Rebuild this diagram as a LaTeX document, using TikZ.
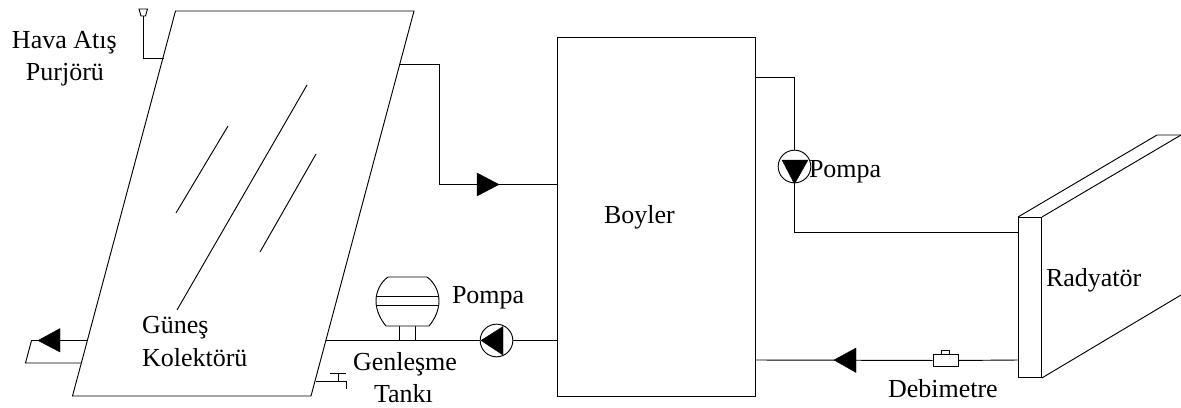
\documentclass[tikz,border=0pt]{standalone}
\usepackage{fontspec}
\setmainfont{Liberation Serif}
\tikzset{
  pipe/.style={draw=black,line width=0.7pt},
  solid tri/.style={fill=black,draw=black,line width=0.3pt},
  lbl/.style={anchor=base west,inner sep=0pt,outer sep=0pt,font=\fontsize{19.5pt}{23pt}\selectfont},
  pumpc/.style={circle,draw=black,fill=white,line width=0.7pt,minimum size=24.5pt,inner sep=0pt},
  boxn/.style={rectangle,draw=black,line width=0.7pt,inner sep=0pt,anchor=north west},
}
\begin{document}
\begin{tikzpicture}[x=0.75pt,y=-0.75pt]
\useasboundingbox (0,0) rectangle (1181,407);
% collector
\coordinate (ctl) at (175.5,11);
\coordinate (ctr) at (414,11);
\coordinate (cbr) at (311,396);
\coordinate (cbl) at (72.5,396);
\draw[pipe] (ctl) -- (ctr) -- (cbr) -- (cbl) -- cycle;
% glass
\coordinate (g1a) at (307,85); \coordinate (g1b) at (177,310);
\coordinate (g2a) at (228,126); \coordinate (g2b) at (176,213);
\coordinate (g3a) at (316,154); \coordinate (g3b) at (260,252);
\draw[pipe] (g1a) -- (g1b) (g2a) -- (g2b) (g3a) -- (g3b);
% vent
\coordinate (va) at (163.5,58); \coordinate (vb) at (143,58); \coordinate (vc) at (143,16);
\draw[pipe] (va) -- (vb) -- (vc);
\draw[pipe] (139,9) -- (147.5,9) -- (145.5,16) -- (141,16) -- cycle;
% boiler
\node[boxn,minimum width=149pt,minimum height=269.25pt] (boiler) at (556.5,37) {};
% collector outlet
\coordinate (co) at (398.5,64);
\coordinate (co2) at (439,64);
\coordinate (co3) at (439,184);
\coordinate (bin) at (boiler.west |- co3);
\draw[pipe] (co) -- (co2) -- (co3) -- (bin);
\fill[solid tri] (477,173) -- (499,184.5) -- (477,196) -- cycle;
% bottom left outlet
\coordinate (la) at (87,340.5); \coordinate (lb) at (31.5,340.5);
\coordinate (lc) at (25.5,363); \coordinate (ld) at (81,363);
\draw[pipe] (la) -- (lb) -- (lc) -- (ld);
\fill[solid tri] (38,340.5) -- (60,328.5) -- (60,352) -- cycle;
% lower pump and line
\coordinate (m1) at (326,340.5);
\node[pumpc] (pump1) at (496.5,340.5) {};
\coordinate (bo) at (boiler.west |- m1);
\draw[pipe] (m1) -- (pump1.west);
\draw[pipe] (pump1.east) -- (bo);
\fill[solid tri] (481,340.5) -- (503,326.5) -- (503,355) -- cycle;
% expansion tank
\draw[pipe] (399.5,326) -- (399.5,340.5) (415,326) -- (415,340.5);
\draw[pipe,fill=white] (388,277) -- (427,277)
  .. controls (434,282) and (439,291) .. (439,301)
  .. controls (439,311) and (434,320) .. (429,326)
  -- (386,326)
  .. controls (381,320) and (376,311) .. (376,301)
  .. controls (376,291) and (381,282) .. (388,277) -- cycle;
\draw[pipe] (376,296) -- (439,296) (376,305) -- (439,305);
% drain tap
\coordinate (t1) at (316,381); \coordinate (t2) at (346,381); \coordinate (t3) at (346,389);
\draw[pipe] (t1) -- (t2) -- (t3);
\draw[pipe] (338,373) -- (338,381) (330,373) -- (346,373);
% radiator
\node[boxn,minimum width=17.25pt,minimum height=120pt] (rad) at (1018,217) {};
\draw[pipe] (rad.north west) -- (1157,135) -- (1181,135);
\draw[pipe] (rad.north east) -- (1181,135);
\draw[pipe] (rad.south east) -- (1181,295);
% upper right loop
\coordinate (r1) at (boiler.east |- 0,77);
\coordinate (r2) at (794.5,77);
\node[pumpc] (pump2) at (794.5,166.5) {};
\coordinate (r3) at (794.5,232);
\coordinate (r4) at (rad.west |- r3);
\draw[pipe] (r1) -- (r2) -- (pump2.north);
\draw[pipe] (pump2.south) -- (r3) -- (r4);
\fill[solid tri] (782,160) -- (808,160) -- (794.5,184) -- cycle;
% lower right line
\node[boxn,fill=white,minimum width=18.75pt,minimum height=9pt] (deb) at (932.5,354) {};
\node[boxn,minimum width=6pt,minimum height=3pt] (debt) at (940.5,350) {};
\coordinate (s1) at (boiler.east |- 0,360);
\coordinate (s2) at (rad.west |- s1);
\draw[pipe] (s1) -- (deb.west);
\draw[pipe] (deb.east) -- (s2);
\fill[solid tri] (834,360) -- (856,348) -- (856,372.5) -- cycle;
% labels
\node[lbl] (l1) at (12,48) {Hava Atış};
\node[lbl] (l2) at (26,80) {Purjörü};
\node[lbl] (l3) at (142,333) {Güneş};
\node[lbl] (l4) at (142,366) {Kolektörü};
\node[lbl] (l5) at (452,303) {Pompa};
\node[lbl] (l6) at (353,370) {Genleşme};
\node[lbl] (l7) at (374,402) {Tankı};
\node[lbl] (l8) at (604,223) {Boyler};
\node[lbl] (l9) at (809,177) {Pompa};
\node[lbl] (l10) at (1046,286) {Radyatör};
\node[lbl] (l11) at (888,397) {Debimetre};
\end{tikzpicture}
\end{document}
